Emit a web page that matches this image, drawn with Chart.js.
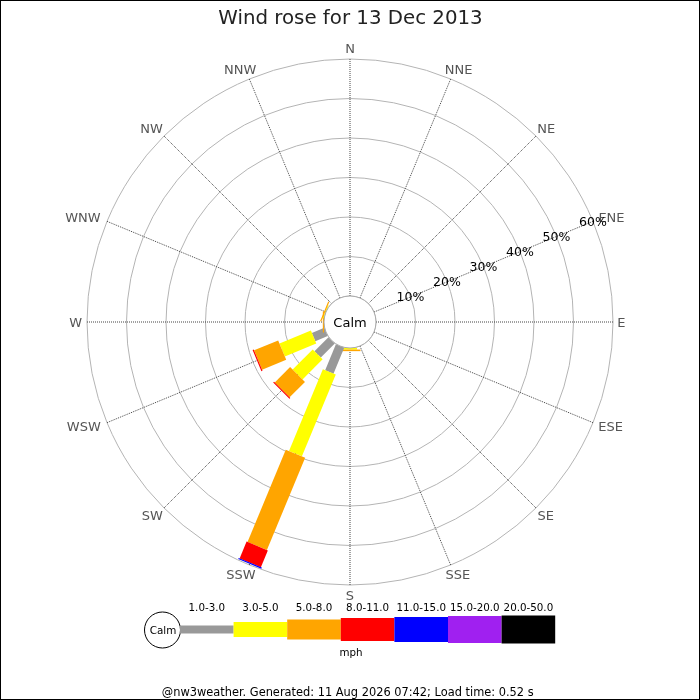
<!DOCTYPE html>
<html>
<head>
<meta charset="utf-8">
<script src="https://cdn.jsdelivr.net/npm/chart.js@4.4.1/dist/chart.umd.min.js"></script>
<style>
html,body{margin:0;padding:0;background:#fff;}
#wrap{position:relative;width:700px;height:700px;}
canvas{display:block;}
</style>
</head>
<body>
<div id="wrap"><canvas id="c" width="700" height="700"></canvas></div>
<script>
// ---- data ----
const directions = ['N','NNE','NE','ENE','E','ESE','SE','SSE','S','SSW','SW','WSW','W','WNW','NW','NNW'];
const speedClasses = ['1.0-3.0','3.0-5.0','5.0-8.0','8.0-11.0','11.0-15.0','15.0-20.0','20.0-50.0'];
const classColors = ['#999999','#ffff00','#ffa500','#ff0000','#0000ff','#a020f0','#000000'];
//                 N  NNE NE ENE E ESE SE SSE  S    SSW   SW   WSW  W    WNW  NW NNW
const speed1to3   = [0, 0, 0, 0, 0, 0, 0, 0, 0,   7.1,  5.0, 3.4, 0,   0,   0, 0];
const speed3to5   = [0, 0, 0, 0, 0, 0, 0, 0, 0.4, 22.4, 7.2, 8.6, 0,   0.2, 0, 0];
const speed5to8   = [0, 0, 0, 0, 0, 0, 0, 0, 0.4, 25.3, 5.5, 6.6, 0.3, 0.3, 0, 0];
const speed8to11  = [0, 0, 0, 0, 0, 0, 0, 0, 0,   4.6,  0.3, 0.3, 0,   0,   0, 0];
const speed11to15 = [0, 0, 0, 0, 0, 0, 0, 0, 0,   0.3,  0,   0,   0,   0,   0, 0];
const speed15to20 = [0, 0, 0, 0, 0, 0, 0, 0, 0,   0,    0,   0,   0,   0,   0, 0];
const speed20to50 = [0, 0, 0, 0, 0, 0, 0, 0, 0,   0,    0,   0,   0,   0,   0, 0];
const tickValues = [0, 10, 20, 30, 40, 50, 60];
const tickLabels = ['10%','20%','30%','40%','50%','60%'];
const titleText = 'Wind rose for 13 Dec 2013';
const calmLabel = 'Calm';
const unitLabel = 'mph';
const footerText = '@nw3weather. Generated: 11 Aug 2026 07:42; Load time: 0.52 s';

const seriesValues = [speed1to3, speed3to5, speed5to8, speed8to11, speed11to15, speed15to20, speed20to50];

// ---- styles ----
const FONT = "'DejaVu Sans', sans-serif";
const barWidths = [9, 14, 21, 23, 25, 27, 28];
const legendHeights = [8, 15, 20, 23, 25, 27, 28];
const tickLabelDirection = 3; // ENE
const CAP = 0.3645; // half cap-height ratio for DejaVu Sans

const windRosePlugin = {
  id: 'windRose',
  beforeDatasetsDraw(chart) {
    const ctx = chart.ctx;
    const scale = chart.scales.r;
    ctx.save();
    // compass point labels
    const size = 13;
    ctx.font = size + 'px ' + FONT;
    ctx.fillStyle = '#555';
    ctx.textAlign = 'center';
    ctx.textBaseline = 'alphabetic';
    const outer = scale.getDistanceFromCenterForValue(scale.max);
    directions.forEach((lbl, i) => {
      const a = scale.getIndexAngle(i);
      const w = ctx.measureText(lbl).width;
      const h = 11;
      const p = scale.getPointPosition(i, outer + 3);
      const x = p.x + Math.sin(a) * w / 2 * 1.3;
      const y = p.y - Math.cos(a) * h / 2 * 1.33;
      ctx.fillText(lbl, x, y + CAP * size);
    });
    ctx.restore();
  },
  afterDatasetsDraw(chart) {
    const ctx = chart.ctx;
    const scale = chart.scales.r;
    ctx.save();
    // stacked bars per direction
    directions.forEach((d, i) => {
      let cum = 0;
      chart.data.datasets.forEach((ds, k) => {
        const v = ds.data[i];
        if (!v) return;
        const p0 = scale.getPointPositionForValue(i, cum);
        const p1 = scale.getPointPositionForValue(i, cum + v);
        ctx.beginPath();
        ctx.strokeStyle = ds.backgroundColor;
        ctx.lineWidth = barWidths[k];
        ctx.lineCap = 'butt';
        ctx.moveTo(p0.x, p0.y);
        ctx.lineTo(p1.x, p1.y);
        ctx.stroke();
        cum += v;
      });
    });
    // calm circle
    const rc = scale.getDistanceFromCenterForValue(0);
    ctx.beginPath();
    ctx.arc(scale.xCenter, scale.yCenter, rc, 0, Math.PI * 2);
    ctx.fillStyle = '#fff';
    ctx.fill();
    ctx.lineWidth = 1;
    ctx.strokeStyle = '#aaaaaa';
    ctx.stroke();
    ctx.fillStyle = '#000';
    ctx.font = '13px ' + FONT;
    ctx.textAlign = 'center';
    ctx.textBaseline = 'alphabetic';
    ctx.fillText(calmLabel, scale.xCenter, scale.yCenter + 5.3);
    // tick labels along ENE
    const ts = 12.5;
    ctx.font = ts + 'px ' + FONT;
    tickValues.slice(1).forEach((v, j) => {
      const p = scale.getPointPositionForValue(tickLabelDirection, v);
      ctx.fillText(tickLabels[j], p.x, p.y + CAP * ts);
    });
    ctx.restore();
  },
  afterDraw(chart) {
    const ctx = chart.ctx;
    ctx.save();
    ctx.textAlign = 'center';
    ctx.textBaseline = 'alphabetic';
    // title
    ctx.fillStyle = '#222';
    ctx.font = '19.8px ' + FONT;
    ctx.fillText(titleText, 350.5, 24.2);
    // legend
    const segW = 53.6, x0 = 180, yMid = 629.5;
    ctx.beginPath();
    ctx.arc(162.5, 630, 18, 0, Math.PI * 2);
    ctx.fillStyle = '#fff';
    ctx.fill();
    ctx.strokeStyle = '#000';
    ctx.lineWidth = 1;
    ctx.stroke();
    ctx.fillStyle = '#000';
    ctx.font = '10.4px ' + FONT;
    ctx.fillText(calmLabel, 163, 634);
    speedClasses.forEach((lbl, k) => {
      const h = legendHeights[k];
      ctx.fillStyle = classColors[k];
      ctx.fillRect(x0 + k * segW, yMid - h / 2, segW, h);
      ctx.fillStyle = '#000';
      ctx.font = '10.3px ' + FONT;
      ctx.fillText(lbl, x0 + k * segW + segW / 2, 610.7);
    });
    ctx.fillText(unitLabel, 351, 656.3);
    ctx.font = '11.4px ' + FONT;
    ctx.fillText(footerText, 347.7, 696);
    // frame
    ctx.strokeStyle = '#000';
    ctx.lineWidth = 1;
    ctx.strokeRect(0.5, 0.5, 699, 699);
    ctx.restore();
  }
};

new Chart(document.getElementById('c'), {
  type: 'radar',
  data: {
    labels: directions,
    datasets: speedClasses.map((name, k) => ({
      label: name,
      data: seriesValues[k],
      backgroundColor: classColors[k],
      borderColor: classColors[k],
      borderWidth: 0,
      showLine: false,
      pointRadius: 0,
      pointHoverRadius: 0,
      fill: false
    }))
  },
  options: {
    responsive: false,
    animation: false,
    devicePixelRatio: 1,
    layout: { padding: { left: 87, right: 87, top: 59, bottom: 115 } },
    plugins: { legend: { display: false }, tooltip: { enabled: false }, title: { display: false } },
    scales: {
      r: {
        type: 'radialLinear',
        min: -6.58,
        max: 60,
        startAngle: 0,
        afterBuildTicks(scale) { scale.ticks = tickValues.map(v => ({ value: v })); },
        ticks: { display: false, stepSize: 10 },
        grid: { circular: true, color: '#b4b4b4', lineWidth: 1 },
        angleLines: { display: true, color: '#444', lineWidth: 1, borderDash: [1, 1] },
        pointLabels: { display: false }
      }
    }
  },
  plugins: [windRosePlugin]
});
</script>
</body>
</html>
